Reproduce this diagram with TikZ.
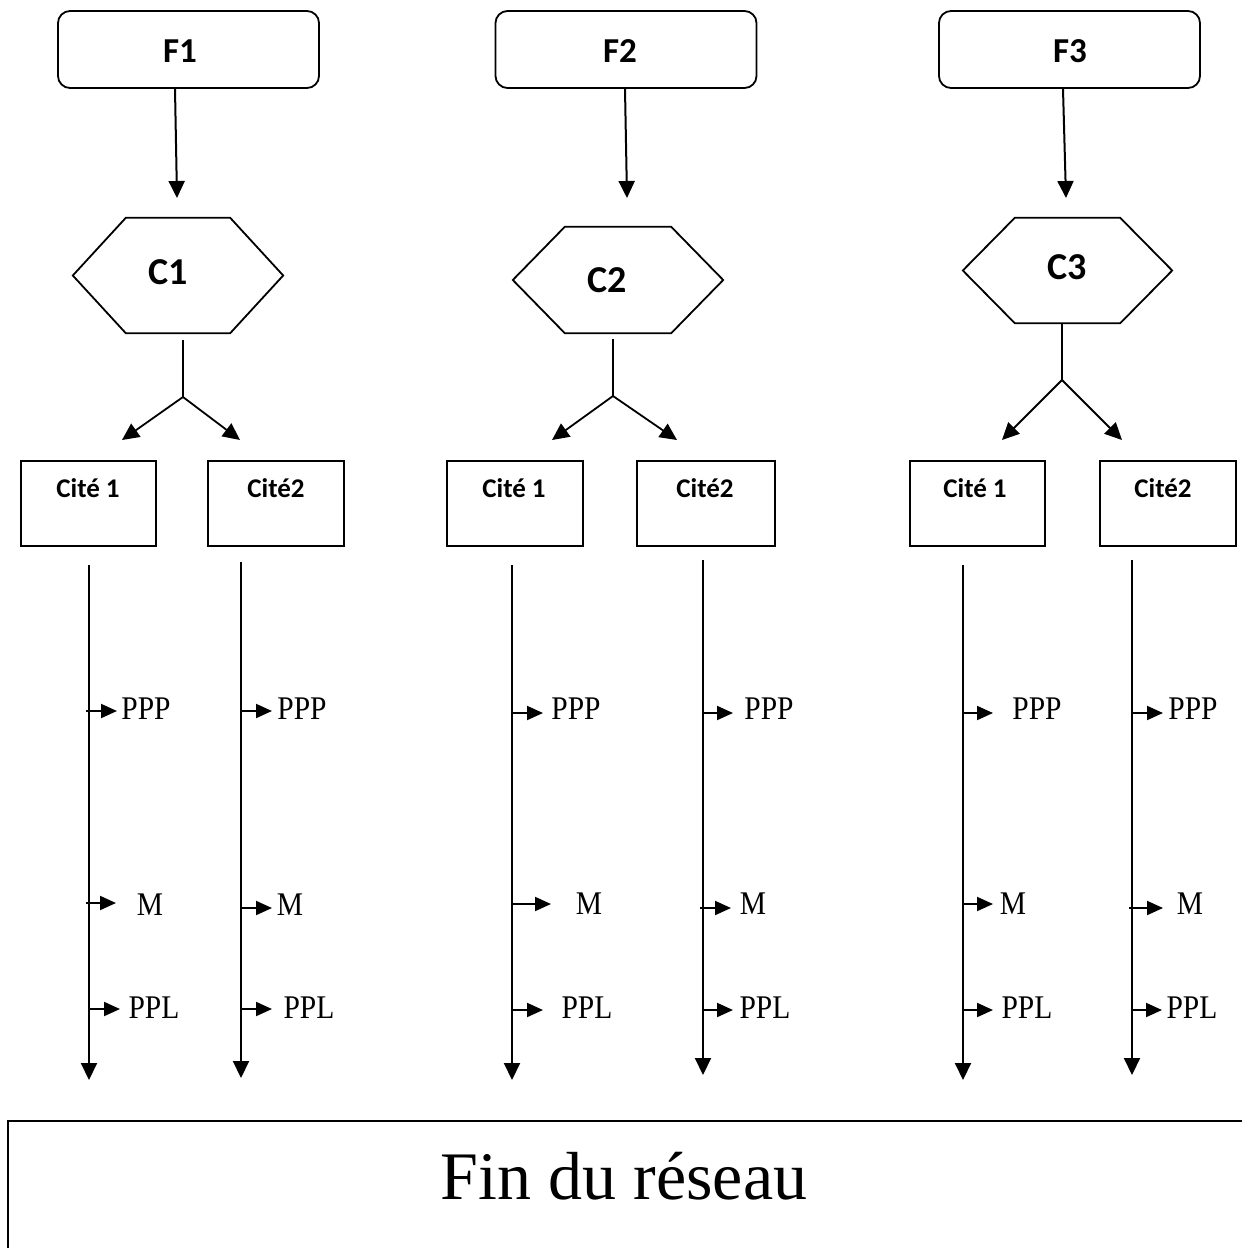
\documentclass[tikz,border=0pt]{standalone}
\usepackage{fontspec}
\setmainfont{Liberation Serif}
\newfontfamily\calibri{Carlito}
\usetikzlibrary{arrows.meta}
\tikzset{
  ln/.style={line width=2pt},
  arr/.style={line width=2pt,-{Triangle[length=17pt,width=16pt]}},
  sarr/.style={line width=2pt,-{Triangle[length=16pt,width=14pt]}},
  fbox/.style={draw,line width=1.8pt,rounded corners=12pt,minimum width=261pt,minimum height=77pt,inner sep=0pt},
  hexbase/.style={inner sep=0pt},
  citebox/.style={draw,line width=1.8pt,minimum width=135pt,minimum height=85pt,inner sep=0pt},
  flab/.style={font=\calibri\bfseries\fontsize{35}{35}\selectfont,inner sep=0pt},
  clab/.style={font=\calibri\bfseries\fontsize{38}{38}\selectfont,inner sep=0pt},
  ctlab/.style={font=\calibri\bfseries\fontsize{27}{27}\selectfont,inner sep=0pt},
  lab/.style={font=\fontsize{29.5}{29.5}\selectfont,inner sep=0pt},
}
\newcommand\hexdraw[2]{% node name, inset
  \draw[line width=1.8pt] (#1.west) -- ([xshift=#2]#1.north west) -- ([xshift=-#2]#1.north east)
    -- (#1.east) -- ([xshift=-#2]#1.south east) -- ([xshift=#2]#1.south west) -- cycle;}
\newcommand\sidearrow[7]{% name, x0, x1, y arrow, text x, text y, text
  \coordinate (#1s) at (#2,#4);
  \coordinate (#1e) at (#3,#4);
  \node[lab] (#1) at (#5,#6) {\scalebox{1}[1.12]{#7}};
  \draw[sarr] (#1s) -- (#1e);}
\newcommand\colline[4]{% name, x, ytop, ybottom
  \coordinate (#1t) at (#2,#3);
  \coordinate (#1b) at (#2,#4);
  \draw[arr] (#1t) -- (#1b);}
\begin{document}
\begin{tikzpicture}[x=1pt,y=-1pt]
\useasboundingbox (0,0) rectangle (1242,1248);
% top boxes
\node[fbox] (f1) at (188.5,49.5) {};
\node[fbox] (f2) at (626,49.5) {};
\node[fbox] (f3) at (1069.5,49.5) {};
\node[flab] (f1t) at (180,51) {F1};
\node[flab] (f2t) at (620,51) {F2};
\node[flab] (f3t) at (1070,51) {F3};
% hexagons
\node[hexbase,minimum width=210pt,minimum height=115pt] (c1) at (178,275.5) {};
\node[hexbase,minimum width=210pt,minimum height=106pt] (c2) at (618,280) {};
\node[hexbase,minimum width=209pt,minimum height=105pt] (c3) at (1067.5,270.5) {};
\hexdraw{c1}{53pt}
\hexdraw{c2}{52pt}
\hexdraw{c3}{52pt}
\node[clab] (c1t) at (168,272) {C1};
\node[clab] (c2t) at (607,280) {C2};
\node[clab] (c3t) at (1067,267) {C3};
% F -> C arrows
\coordinate (a1) at (177,198);
\coordinate (a2) at (627,198);
\coordinate (a3) at (1066,198);
\draw[arr] ([xshift=-13.5pt]f1.south) -- (a1);
\draw[arr] ([xshift=-1pt]f2.south) -- (a2);
\draw[arr] ([xshift=-6.5pt]f3.south) -- (a3);
% branches
\coordinate (b1s) at (183,340); \coordinate (b1j) at (183,397);
\coordinate (b1l) at (122,440); \coordinate (b1r) at (240,440);
\coordinate (b2s) at (613,339); \coordinate (b2j) at (613,396);
\coordinate (b2l) at (552,440); \coordinate (b2r) at (677,440);
\coordinate (b3j) at (1062,380);
\coordinate (b3l) at (1002,440); \coordinate (b3r) at (1122,440);
\draw[line width=1.8pt] (b1s) -- (b1j);
\draw[arr,line width=1.8pt] (b1j) -- (b1l);
\draw[arr,line width=1.8pt] (b1j) -- (b1r);
\draw[line width=1.8pt] (b2s) -- (b2j);
\draw[arr,line width=1.8pt] (b2j) -- (b2l);
\draw[arr,line width=1.8pt] (b2j) -- (b2r);
\draw[line width=1.8pt] ([xshift=-5.5pt]c3.south) -- (b3j);
\draw[arr,line width=1.8pt] (b3j) -- (b3l);
\draw[arr,line width=1.8pt] (b3j) -- (b3r);
% cite boxes
\node[citebox] (k11) at (88.5,503.5) {};
\node[citebox,minimum width=136pt] (k12) at (276,503.5) {};
\node[citebox,minimum width=136pt] (k21) at (515,503.5) {};
\node[citebox,minimum width=138pt] (k22) at (706,503.5) {};
\node[citebox] (k31) at (977.5,503.5) {};
\node[citebox,minimum width=136pt] (k32) at (1168,503.5) {};
\node[ctlab] (k11t) at (88,488) {Cité 1};
\node[ctlab] (k12t) at (276,488) {Cité2};
\node[ctlab] (k21t) at (514,488) {Cité 1};
\node[ctlab] (k22t) at (705,488) {Cité2};
\node[ctlab] (k31t) at (975,488) {Cité 1};
\node[ctlab] (k32t) at (1163,488) {Cité2};
% vertical lines
\colline{v1}{89}{565}{1080}
\colline{v2}{241}{562}{1078}
\colline{v3}{512}{565}{1080}
\colline{v4}{703}{560}{1075}
\colline{v5}{963}{565}{1080}
\colline{v6}{1132}{560}{1075}
% side arrows
\sidearrow{p1}{86}{117}{711}{146}{709}{PPP}
\sidearrow{m1}{86}{116}{903}{150}{905}{M}
\sidearrow{l1}{89}{120}{1009}{154}{1008}{PPL}
\sidearrow{p2}{241}{272}{711}{302}{709}{PPP}
\sidearrow{m2}{241}{272}{908}{290}{905}{M}
\sidearrow{l2}{241}{272}{1009}{309}{1008}{PPL}
\sidearrow{p3}{511}{543}{713}{576}{709}{PPP}
\sidearrow{m3}{513}{551}{904}{589}{904}{M}
\sidearrow{l3}{513}{543}{1010}{587}{1008}{PPL}
\sidearrow{p4}{703}{733}{713}{769}{709}{PPP}
\sidearrow{m4}{700}{731}{908}{753}{904}{M}
\sidearrow{l4}{703}{733}{1010}{765}{1008}{PPL}
\sidearrow{p5}{963}{993}{713}{1037}{709}{PPP}
\sidearrow{m5}{963}{993}{904}{1013}{904}{M}
\sidearrow{l5}{963}{993}{1010}{1027}{1008}{PPL}
\sidearrow{p6}{1132}{1163}{713}{1193}{709}{PPP}
\sidearrow{m6}{1129}{1163}{908}{1190}{904}{M}
\sidearrow{l6}{1132}{1162}{1010}{1192}{1008}{PPL}
% bottom box
\node[draw,line width=2pt,minimum width=1263pt,minimum height=160pt,inner sep=0pt,anchor=north west] (fin) at (7,1120) {};
\node[font=\fontsize{68}{68}\selectfont,inner sep=0pt] (fint) at (624,1176) {Fin du réseau};
\end{tikzpicture}
\end{document}
